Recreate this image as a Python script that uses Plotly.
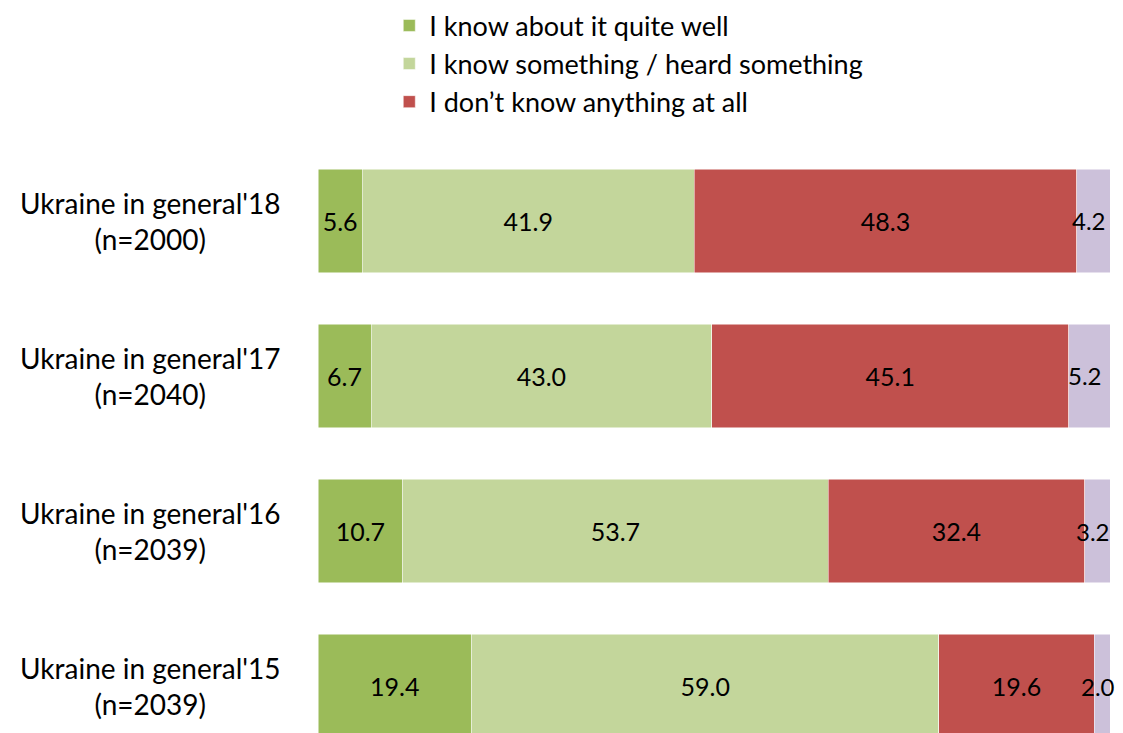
import plotly.graph_objects as go

categories = ["Ukraine in general'18<br>(n=2000)", "Ukraine in general'17<br>(n=2040)",
              "Ukraine in general'16<br>(n=2039)", "Ukraine in general'15<br>(n=2039)"]
know_well = [5.6, 6.7, 10.7, 19.4]
know_something = [41.9, 43.0, 53.7, 59.0]
know_nothing = [48.3, 45.1, 32.4, 19.6]
hard_to_say = [4.2, 5.2, 3.2, 2.0]

font = "Lato, 'Open Sans', sans-serif"

series = [
    ("I know about it quite well", know_well, "#9BBB59", True),
    ("I know something / heard something", know_something, "#C3D69B", True),
    ("I don’t know anything at all", know_nothing, "#C0504D", True),
    ("Hard to answer", hard_to_say, "#CCC1DA", False),
]

fig = go.Figure()
for name, vals, color, show in series:
    fig.add_trace(go.Bar(
        y=categories, x=vals, name=name, orientation="h",
        marker=dict(color=color, line=dict(color="white", width=0.5)),
        text=[f"{v:.1f}" for v in vals] if show else None,
        textposition="inside" if show else "none",
        insidetextanchor="middle", constraintext="none", textangle=0,
        textfont=dict(color="black", size=25, family=font),
        showlegend=show, hoverinfo="x+name",
    ))

# the thin last segment: labels spill over the bar edge, so use annotations
for c, a, b, d, v in zip(categories, know_well, know_something, know_nothing, hard_to_say):
    fig.add_annotation(x=a + b + d + v / 2, y=c, text=f"{v:.1f}", showarrow=False,
                       xanchor="center", xshift=-4,
                       font=dict(size=24, family=font, color="black"))

# category labels centred like the original (tick labels would be right-aligned)
for c in categories:
    fig.add_annotation(x=-0.212, xref="paper", xanchor="center", y=c, yref="y",
                       text=c, showarrow=False, align="center",
                       font=dict(size=28, family=font, color="black"))

fig.update_layout(
    barmode="stack",
    bargap=0.335,
    width=1115, height=725,
    margin=dict(l=310, r=13, t=135, b=0, autoexpand=False),
    plot_bgcolor="white", paper_bgcolor="white",
    font=dict(family=font, size=25, color="black"),
    uniformtext=dict(minsize=25, mode="show"),
    legend=dict(x=0.090, y=1.24, xanchor="left", yanchor="top",
                traceorder="normal", font=dict(size=27, family=font),
                tracegroupgap=0, itemwidth=30),
    xaxis=dict(range=[0, 100], visible=False),
    yaxis=dict(range=[3.303, -0.503], showticklabels=False, showgrid=False,
               zeroline=False),
)

fig.write_html("out.html")
